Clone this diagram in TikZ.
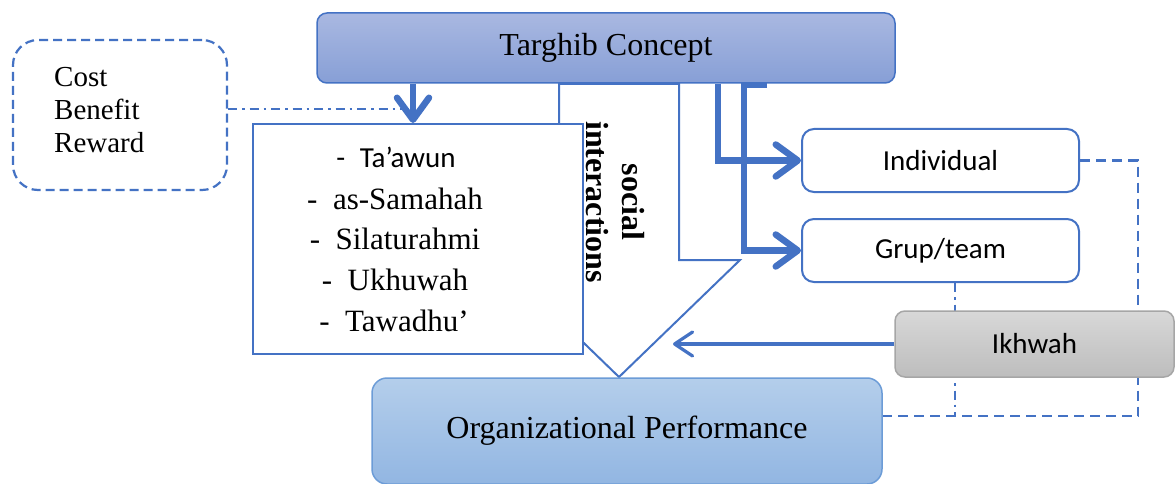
\documentclass[tikz,border=0pt]{standalone}
\usepackage{fontspec}
\setmainfont{Liberation Serif}
\newfontfamily\calib{Carlito}
\usetikzlibrary{arrows.meta}
\definecolor{ob}{HTML}{4472C4}
\definecolor{tgTop}{HTML}{A9B8E1}
\definecolor{tgBot}{HTML}{879FD6}
\definecolor{opTop}{HTML}{B4CEEB}
\definecolor{opBot}{HTML}{92B6E2}
\definecolor{opLine}{HTML}{6C9CD7}
\definecolor{ikTop}{HTML}{D8D8D8}
\definecolor{ikBot}{HTML}{BDBDBD}
\definecolor{ikLine}{HTML}{A6A6A6}
\tikzset{
  rbox/.style={draw=ob, line width=2pt, rounded corners=12pt, fill=white, inner sep=0pt,
    minimum width=277pt, minimum height=63pt, font=\calib\fontsize{29}{34}\selectfont},
  serifitem/.style={inner sep=0pt, font=\fontsize{31}{36}\selectfont},
  tharrow/.style={ob, line width=6.5pt, line join=miter, -{Straight Barb[length=22pt,width=32pt,round]}},
  medarrow/.style={ob, line width=3.2pt, -{Straight Barb[length=18pt,width=24pt,round]}},
  dashline/.style={ob, line width=2.4pt, dash pattern=on 10pt off 6pt},
  dashdotline/.style={ob, line width=2.2pt, dash pattern=on 9pt off 5pt on 2.5pt off 5pt},
}
\begin{document}
\begin{tikzpicture}[x=1pt,y=-1pt]
\clip (0,0) rectangle (1175,484);
\fill[white] (0,0) rectangle (1175,484);

% coordinates
\coordinate (xa) at (413,0);
\coordinate (v1) at (718,0);
\coordinate (v2) at (744,0);
\coordinate (v2s) at (767,85);
\coordinate (cd) at (410,109);
\coordinate (dd) at (955,0);
\coordinate (dr) at (1138,416);
\coordinate (ikend) at (673,344);

% Cost box
\node[draw=ob, line width=2.2pt, dash pattern=on 9pt off 5pt, rounded corners=25pt,
  minimum width=214pt, minimum height=150pt, inner sep=0pt] (cost) at (120,115) {};
\node[anchor=west, align=left, inner sep=0pt, font=\fontsize{29}{33}\selectfont] (costtxt) at (54,110) {Cost\\Benefit\\Reward};

% social interactions arrow shape
\draw[ob, line width=2pt, fill=white, line join=miter]
  (559,84) -- (679,84) -- (679,260) -- (740,260) -- (619,377) -- (498,260) -- (559,260) -- cycle;
\node[rotate=-90, align=center, inner sep=0pt, font=\bfseries\fontsize{32}{36}\selectfont] (soc) at (615,202) {social\\interactions};

% list box
\node[draw=ob, line width=2pt, fill=white, minimum width=330pt, minimum height=230pt, inner sep=0pt] (list) at (418,239) {};
\node[inner sep=0pt, font=\calib\fontsize{29}{34}\selectfont] (l1) at (396,157) {-\enspace Ta’awun};
\node[serifitem] (l2) at (395,199) {-\enspace as-Samahah};
\node[serifitem] (l3) at (395,239) {-\enspace Silaturahmi};
\node[serifitem] (l4) at (395,280) {-\enspace Ukhuwah};
\node[serifitem] (l5) at (394,321) {-\enspace Tawadhu’};

% right boxes
\node[rbox] (indiv) at (940.5,160.5) {Individual};
\node[rbox] (grup) at (940.5,250.5) {Grup/team};

% Targhib concept
\node[draw=ob, line width=1.5pt, rounded corners=10pt, top color=tgTop, bottom color=tgBot,
  minimum width=578pt, minimum height=70pt, inner sep=0pt, font=\fontsize{32}{38}\selectfont] (targhib) at (606,48) {Targhib Concept};

% Organizational performance
\node[draw=opLine, line width=1.5pt, rounded corners=15pt, top color=opTop, bottom color=opBot,
  minimum width=510pt, minimum height=106pt, inner sep=0pt, font=\fontsize{32}{38}\selectfont] (org) at (627,431) {Organizational Performance};

% connectors
\draw[dashdotline] (cost.east |- cd) -- (cd);
\draw[tharrow] (targhib.south -| xa) -- (list.north -| xa);
\draw[tharrow] (targhib.south -| v1) |- (indiv.west);
\draw[tharrow] (v2s) -- (v2s -| v2) |- (grup.west);
\draw[dashline] (indiv.east) -| (dr) -- (dr -| org.east);
\draw[dashdotline] (grup.south -| dd) -- (dd |- dr);

% Ikhwah
\node[draw=ikLine, line width=1.5pt, rounded corners=10pt, top color=ikTop, bottom color=ikBot,
  minimum width=279pt, minimum height=66pt, inner sep=0pt, font=\calib\fontsize{29}{34}\selectfont] (ikhwah) at (1034.5,344) {Ikhwah};
\draw[medarrow] (ikhwah.west) -- (ikend);
\end{tikzpicture}
\end{document}
